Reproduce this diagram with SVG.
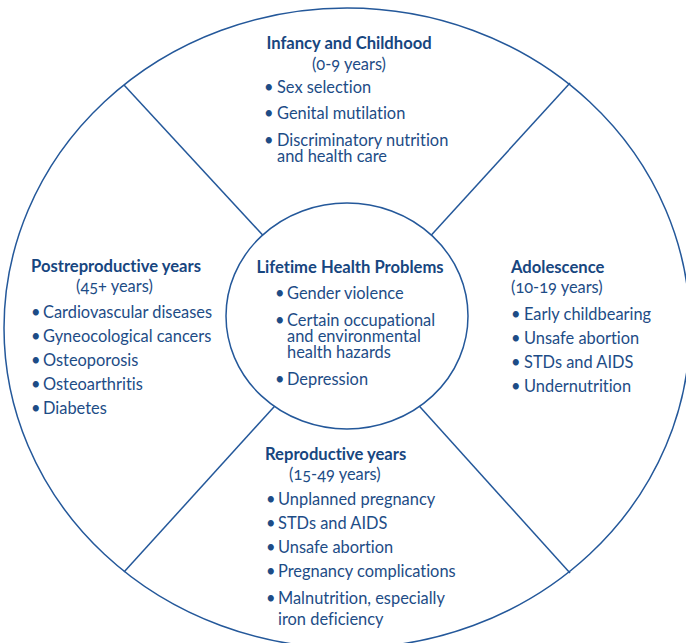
<svg xmlns="http://www.w3.org/2000/svg" width="686" height="643" viewBox="0 0 686 643">
  <style>
    .ring { fill: none; stroke: #24589a; stroke-width: 1.5; }
    .hub { fill: #ffffff; stroke: #24589a; stroke-width: 1.5; }
    .div { stroke: #24589a; stroke-width: 1.5; fill: none; }
    text { font-family: Lato, "Open Sans", "Liberation Sans", sans-serif; font-size: 16.4px; fill: #1d4c86; font-variant-numeric: oldstyle-nums; font-variant-ligatures: none; font-feature-settings: "liga" 0, "onum" 1; }
    .title { font-weight: bold; font-size: 16.6px; fill: #17467f; }
    .mid { text-anchor: middle; }
  </style>
  <rect width="686" height="643" fill="#ffffff"/>

  <!-- outer ring -->
  <ellipse class="ring" cx="347" cy="328" rx="343" ry="320"/>

  <!-- dividers between the life stages -->
  <g id="connectors">
    <line class="div" x1="270" y1="243" x2="124" y2="85"/>
    <line class="div" x1="425" y1="242" x2="570" y2="83"/>
    <line class="div" x1="283" y1="397" x2="124" y2="572"/>
    <line class="div" x1="412" y1="398" x2="570" y2="573"/>
  </g>

  <!-- centre: lifetime problems -->
  <g id="lifetime">
    <ellipse class="hub" cx="347" cy="316" rx="121" ry="113"/>
    <text class="title mid" x="350" y="273">Lifetime Health Problems</text>
    <text y="299"><tspan x="275">•</tspan><tspan x="287">Gender violence</tspan></text>
    <text y="326"><tspan x="275">•</tspan><tspan x="287">Certain occupational</tspan><tspan x="287" dy="16">and environmental</tspan><tspan x="287" dy="16">health hazards</tspan></text>
    <text y="385"><tspan x="275">•</tspan><tspan x="287">Depression</tspan></text>
  </g>

  <!-- top: infancy and childhood -->
  <g id="infancy">
    <text class="title mid" x="349" y="49">Infancy and Childhood</text>
    <text class="mid" x="349" y="70">(0-9 years)</text>
    <text y="93"><tspan x="264">•</tspan><tspan x="277">Sex selection</tspan></text>
    <text y="119"><tspan x="264">•</tspan><tspan x="277">Genital mutilation</tspan></text>
    <text y="146"><tspan x="264">•</tspan><tspan x="277">Discriminatory nutrition</tspan><tspan x="277" dy="16">and health care</tspan></text>
  </g>

  <!-- left: postreproductive years -->
  <g id="postreproductive">
    <text class="title" x="31" y="272">Postreproductive years</text>
    <text x="76" y="292">(45+ years)</text>
    <text y="318"><tspan x="31">•</tspan><tspan x="43">Cardiovascular diseases</tspan></text>
    <text y="342"><tspan x="31">•</tspan><tspan x="43">Gyneocological cancers</tspan></text>
    <text y="366"><tspan x="31">•</tspan><tspan x="43">Osteoporosis</tspan></text>
    <text y="390"><tspan x="31">•</tspan><tspan x="43">Osteoarthritis</tspan></text>
    <text y="414"><tspan x="31">•</tspan><tspan x="43">Diabetes</tspan></text>
  </g>

  <!-- right: adolescence -->
  <g id="adolescence">
    <text class="title" x="511" y="273">Adolescence</text>
    <text x="511" y="293">(10-19 years)</text>
    <text y="320"><tspan x="511">•</tspan><tspan x="524">Early childbearing</tspan></text>
    <text y="344"><tspan x="511">•</tspan><tspan x="524">Unsafe abortion</tspan></text>
    <text y="368"><tspan x="511">•</tspan><tspan x="524">STDs and AIDS</tspan></text>
    <text y="392"><tspan x="511">•</tspan><tspan x="524">Undernutrition</tspan></text>
  </g>

  <!-- bottom: reproductive years -->
  <g id="reproductive">
    <text class="title" x="265" y="460">Reproductive years</text>
    <text x="289" y="480">(15-49 years)</text>
    <text y="505"><tspan x="266">•</tspan><tspan x="278">Unplanned pregnancy</tspan></text>
    <text y="529"><tspan x="266">•</tspan><tspan x="278">STDs and AIDS</tspan></text>
    <text y="553"><tspan x="266">•</tspan><tspan x="278">Unsafe abortion</tspan></text>
    <text y="577"><tspan x="266">•</tspan><tspan x="278">Pregnancy complications</tspan></text>
    <text y="604"><tspan x="266">•</tspan><tspan x="278">Malnutrition, especially</tspan><tspan x="278" dy="21">iron deficiency</tspan></text>
  </g>
</svg>
